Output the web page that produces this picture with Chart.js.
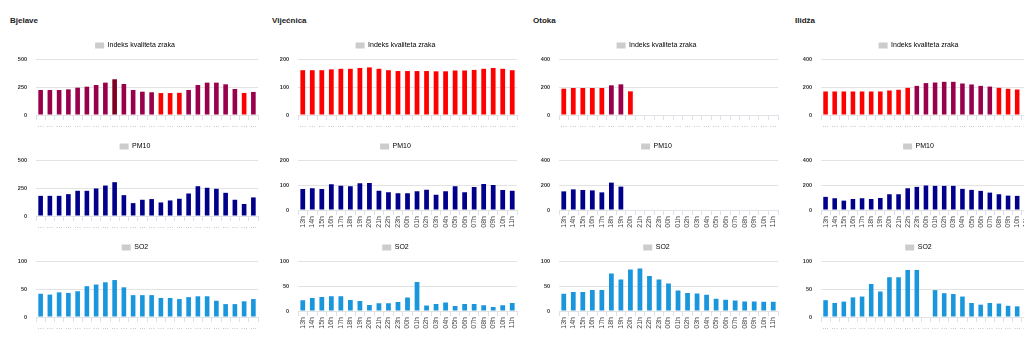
<!DOCTYPE html>
<html>
<head>
<title>Kvalitet zraka</title>
<script src="https://cdn.jsdelivr.net/npm/chart.js"></script>
<style>
    body {
        margin: 0;
        background: #fff;
        width: 1024px;
        height: 345px;
        overflow: hidden;
    }
    #wrap {
        position: relative;
        width: 1060px;
        height: 345px;
    }
    .station {
        position: absolute;
        top: 15px;
        font: bold 8px Arial, "Liberation Sans", sans-serif;
        line-height: 11px;
        color: #222;
    }
    canvas {
        position: absolute;
    }
</style>
</head>
<body>
<div id="wrap"></div>

<script>
// hours on the x axis
var hours23 = ['13h', '14h', '15h', '16h', '17h', '18h', '19h', '20h', '21h', '22h', '23h', '00h',
    '01h', '02h', '03h', '04h', '05h', '06h', '07h', '08h', '09h', '10h', '11h'];
var hours24 = ['13h', '14h', '15h', '16h', '17h', '18h', '19h', '20h', '21h', '22h', '23h', '00h',
    '01h', '02h', '03h', '04h', '05h', '06h', '07h', '08h', '09h', '10h', '11h', '12h'];

var stationNames = ['Bjelave', 'Vijećnica', 'Otoka', 'Ilidža'];
var seriesNames = ['Indeks kvaliteta zraka', 'PM10', 'SO2'];

// Bjelave
var bjelaveIkz = [223, 223, 223, 229, 244, 253, 268, 289, 319, 277, 223, 208, 203, 196, 196, 198, 223, 268, 289, 289, 274, 232, 197, 206];
var bjelavePm10 = [180, 180, 180, 195, 225, 225, 246, 272, 302, 186, 115, 145, 151, 121, 139, 154, 201, 266, 252, 243, 207, 145, 107, 166];
var bjelaveSo2 = [41.5, 40, 44, 43, 46, 55, 58, 62, 66, 53, 39, 39, 39, 34, 34, 32, 35.5, 37, 37, 29, 23, 23, 28, 32];

// Vijećnica
var vijecnicaIkz = [160, 160, 160, 163, 165, 165, 168, 170, 165, 160, 157, 157, 157, 157, 156, 156, 159, 159, 161, 165, 168, 165, 160];
var vijecnicaPm10 = [84, 87, 84, 103, 97, 95, 107, 108, 77, 71, 67, 67, 75, 81, 61, 75, 95, 71, 92, 104, 100, 80, 77];
var vijecnicaSo2 = [21.5, 26, 28, 29.5, 29.5, 22, 20, 12, 15.5, 15.5, 18, 27, 58, 11, 14, 17, 10, 14, 14, 11.5, 8, 11.5, 16];

// Otoka
var otokaIkz = [188, 193, 193, 193, 193, 212, 219, 169, null, null, null, null, null, null, null, null, null, null, null, null, null, null, null];
var otokaPm10 = [149, 165, 160, 157, 141, 219, 187, null, null, null, null, null, null, null, null, null, null, null, null, null, null, null, null];
var otokaSo2 = [34.5, 38, 38, 42, 42, 75, 63, 83, 85, 70, 63, 55, 41, 36, 35, 32.5, 24.5, 22.5, 21, 19, 19, 18.5, 18.5];

// Ilidža
var ilidzaIkz = [168, 168, 168, 168, 168, 168, 168, 175, 180, 194, 208, 228, 232, 237, 237, 225, 218, 208, 203, 194, 187, 182, 182, 180];
var ilidzaPm10 = [105, 94, 75, 88, 94, 88, 96, 126, 126, 174, 185, 196, 193, 193, 193, 169, 161, 153, 139, 126, 115, 113, 115, 110];
var ilidzaSo2 = [30, 25, 27.5, 35, 36.5, 59, 45.5, 71, 71, 84, 84, null, 48, 42.5, 41, 36.5, 25, 22, 25, 24, 20, 19, 17.5, 17];

// y axis maximum per chart [station][row]
var axisMax = [[500, 500, 100], [200, 200, 100], [400, 400, 100], [400, 400, 100]];
// which charts show hour labels (the others show only "…")
var showHours = [[false, false, false], [false, true, true], [false, true, true], [false, true, false]];

var stationLabels = [hours24, hours23, hours23, hours24];
var stationData = [
    [bjelaveIkz, bjelavePm10, bjelaveSo2],
    [vijecnicaIkz, vijecnicaPm10, vijecnicaSo2],
    [otokaIkz, otokaPm10, otokaSo2],
    [ilidzaIkz, ilidzaPm10, ilidzaSo2]
];

var FONT = 'Arial, "Liberation Sans", sans-serif';

function ikzColor(v) {
    if (v > 300) return '#7e0023';
    if (v > 200) return '#99004c';
    return '#ff0000';
}

function barColors(row, values) {
    if (row === 1) return '#00008b';
    if (row === 2) return '#1996dc';
    return values.map(function (v) { return ikzColor(v); });
}

var wrap = document.getElementById('wrap');

for (var col = 0; col < 4; col++) {
    var colX = Math.round(col * 261.5);

    var title = document.createElement('div');
    title.className = 'station';
    title.style.left = (colX + 10) + 'px';
    title.textContent = stationNames[col];
    wrap.appendChild(title);

    for (var row = 0; row < 3; row++) {
        var hoursShown = showHours[col][row];
        var plotH = hoursShown ? 50 : 56;
        var canvasH = 95;
        var xH = canvasH - 21 - plotH;

        var canvas = document.createElement('canvas');
        canvas.width = 248;
        canvas.height = canvasH;
        canvas.style.left = (colX + 12) + 'px';
        canvas.style.top = (38 + row * 101) + 'px';
        wrap.appendChild(canvas);

        var values = stationData[col][row];
        makeChart(canvas, stationLabels[col], values, row, axisMax[col][row], hoursShown, xH, col === 0 ? 2 : 5);
    }
}

function makeChart(canvas, labels, values, row, max, hoursShown, xH, padRight) {
    new Chart(canvas.getContext('2d'), {
        type: 'bar',
        data: {
            labels: labels,
            datasets: [{
                label: seriesNames[row],
                data: values,
                backgroundColor: barColors(row, values),
                barPercentage: 0.5,
                categoryPercentage: 1.0
            }]
        },
        options: {
            responsive: false,
            animation: false,
            devicePixelRatio: 1,
            layout: {
                autoPadding: false,
                padding: { top: 0, left: 0, right: padRight, bottom: 0 }
            },
            plugins: {
                tooltip: { enabled: false },
                legend: {
                    display: true,
                    position: 'top',
                    labels: {
                        boxWidth: 9,
                        boxHeight: 6,
                        padding: 4,
                        color: '#555',
                        font: { size: 7, family: FONT },
                        generateLabels: function (chart) {
                            return [{
                                text: chart.data.datasets[0].label,
                                fillStyle: '#cccccc',
                                strokeStyle: '#cccccc',
                                lineWidth: 0,
                                hidden: false,
                                datasetIndex: 0
                            }];
                        }
                    }
                }
            },
            scales: {
                x: {
                    offset: true,
                    grid: {
                        display: true,
                        offset: true,
                        drawOnChartArea: false,
                        drawTicks: true,
                        tickLength: 5,
                        color: '#d9e1ec'
                    },
                    border: { display: false },
                    ticks: {
                        autoSkip: false,
                        minRotation: hoursShown ? 90 : 0,
                        maxRotation: hoursShown ? 90 : 0,
                        padding: 1,
                        color: hoursShown ? '#444' : '#999',
                        font: { size: 7, family: FONT },
                        callback: function (value, index) {
                            return hoursShown ? this.getLabelForValue(value) : '…';
                        }
                    },
                    afterFit: function (scale) { scale.height = xH; }
                },
                y: {
                    min: 0,
                    max: max,
                    grid: {
                        color: '#e3e3e3',
                        drawTicks: false
                    },
                    border: { display: false },
                    ticks: {
                        stepSize: max / 2,
                        padding: 9,
                        color: '#333',
                        font: { size: 5.5, family: FONT, weight: 'bold' }
                    },
                    afterFit: function (scale) { scale.width = 24; }
                }
            }
        }
    });
}
</script>
</body>
</html>
